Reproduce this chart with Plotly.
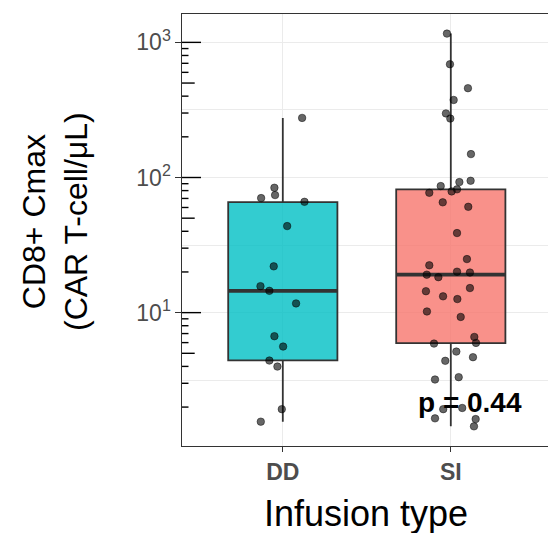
import math
import plotly.graph_objects as go

# ---------------- data ----------------
categories = ["DD", "SI"]
cat_pos = [1, 2]

dd_values = [276, 84, 74.1, 70.4, 66.1, 43.7, 22.0, 15.7, 14.5, 11.7,
             6.69, 5.61, 4.42, 3.99, 1.93, 1.56]
dd_jitter = [0.115, -0.050, -0.046, -0.129, 0.129, 0.026, -0.054, -0.133, -0.080, 0.079,
             -0.050, 0.002, -0.080, -0.032, -0.006, -0.131]

si_values = [1161, 689, 458, 375, 298, 273, 149,
             86.4, 92.5, 94.6, 78.9, 81.7, 77.1, 65.5, 60.7, 38.8, 24.9, 22.4, 19.1,
             18.3, 20.1, 19.8, 14.4, 13.2, 15.2, 12.6,
             10.2, 9.29, 6.61, 5.97, 5.90, 5.15, 4.68, 4.40, 3.20, 3.33,
             1.93, 1.97, 1.65, 1.63, 1.44]
si_jitter = [-0.023, -0.005, 0.102, 0.017, -0.029, -0.003, 0.120,
             -0.060, 0.051, 0.118, 0.005, 0.037, -0.128, -0.048, 0.104, 0.037, 0.096, -0.128, -0.143,
             -0.074, 0.037, 0.114, -0.148, -0.046, 0.114, 0.039,
             -0.142, 0.059, 0.140, 0.150, -0.100, 0.033, 0.132, -0.033, -0.094, 0.047,
             -0.045, 0.068, -0.094, 0.148, 0.138]

box_q1 = [4.44, 5.94]
box_median = [14.5, 19.1]
box_q3 = [65.8, 81.7]
box_lower = [1.56, 1.44]
box_upper = [276, 1161]

fill_colors = ["rgba(0,191,196,0.8)", "rgba(248,118,109,0.8)"]

y_tickvals = [10, 100, 1000]
y_ticktext = ["10<sup>1</sup>", "10<sup>2</sup>", "10<sup>3</sup>"]
y_minor_vals = [10 ** 0.5, 10 ** 1.5, 10 ** 2.5]

p_label = "p = 0.44"
p_x = 2.115
p_y = 2.15

x_title = "Infusion type"
y_title = "CD8+ Cmax<br>(CAR T-cell/μL)"

# ---------------- layout geometry ----------------
W, H = 548, 533
ML, MR, MT, MB = 182, 0, 14, 87
PW, PH = W - ML - MR, H - MT - MB
XR = [0.4, 0.4 + PW / 168.0]
YR = [0.013, 3.21]
BOX_W = 0.65

fig = go.Figure()

groups = [(dd_values, dd_jitter), (si_values, si_jitter)]
for i, cat in enumerate(categories):
    fig.add_trace(go.Box(
        x=[cat_pos[i]], q1=[box_q1[i]], median=[box_median[i]], q3=[box_q3[i]],
        lowerfence=[box_lower[i]], upperfence=[box_upper[i]],
        width=BOX_W, whiskerwidth=0, boxpoints=False,
        fillcolor=fill_colors[i], line=dict(color="#333333", width=1.8),
        showlegend=False, hoverinfo="skip"))
    fig.add_trace(go.Scatter(
        x=[cat_pos[i] - BOX_W / 2, cat_pos[i] + BOX_W / 2],
        y=[box_median[i], box_median[i]], mode="lines",
        line=dict(color="#333333", width=3.8), showlegend=False, hoverinfo="skip"))

for i, (vals, jit) in enumerate(groups):
    fig.add_trace(go.Scatter(
        x=[cat_pos[i] + j for j in jit], y=vals, mode="markers",
        marker=dict(size=7.5, color="rgba(0,0,0,0.6)",
                    line=dict(color="rgba(0,0,0,0.45)", width=1)),
        showlegend=False, hoverinfo="skip"))

# log ticks inside panel (annotation_logticks style)
shapes = []
for k in range(0, 4):
    for m in range(1, 10):
        lv = math.log10(m * 10 ** k)
        if YR[0] <= lv <= YR[1]:
            ln = 19 if m == 1 else (12.7 if m == 5 else 6.5)
            yf = (lv - YR[0]) / (YR[1] - YR[0])
            shapes.append(dict(type="line", xref="paper", yref="paper",
                               x0=0, x1=ln / PW, y0=yf, y1=yf,
                               line=dict(color="black", width=1.4)))

fig.update_layout(
    width=W, height=H,
    margin=dict(l=ML, r=MR, t=MT, b=MB),
    paper_bgcolor="white", plot_bgcolor="white",
    font=dict(family="Liberation Sans, Arial, sans-serif"),
    shapes=shapes,
    xaxis=dict(
        range=XR, tickmode="array", tickvals=cat_pos, ticktext=categories,
        showgrid=True, gridcolor="#EBEBEB", gridwidth=1.4, zeroline=False,
        showline=True, linecolor="#333333", linewidth=1.1, mirror=True,
        ticks="outside", ticklen=5, tickwidth=1.1, tickcolor="#333333",
        tickfont=dict(size=23, color="#4D4D4D", family="Liberation Sans, Arial, sans-serif", weight="bold"),
    ),
    yaxis=dict(
        type="log", range=YR, tickmode="array", tickvals=y_tickvals, ticktext=y_ticktext,
        showgrid=True, gridcolor="#EBEBEB", gridwidth=1.4, zeroline=False,
        showline=True, linecolor="#333333", linewidth=1.1, mirror=False,
        ticks="outside", ticklen=5.5, tickwidth=1.1, tickcolor="#333333",
        tickfont=dict(size=23, color="#4D4D4D"),
        minor=dict(tickmode="array", tickvals=y_minor_vals, showgrid=True,
                   gridcolor="#EBEBEB", gridwidth=0.8, ticks=""),
    ),
    annotations=[
        dict(text=p_label, x=p_x, y=math.log10(p_y), xref="x", yref="y",
             showarrow=False, xanchor="center", yanchor="middle",
             font=dict(size=28, color="black", weight="bold")),
        dict(text=x_title, x=(366 - ML) / PW, y=(MT + PH - 513) / PH,
             xref="paper", yref="paper", showarrow=False,
             xanchor="center", yanchor="middle",
             font=dict(size=36, color="black")),
        dict(text=y_title, x=(55 - ML) / PW, y=(MT + PH - 222) / PH,
             xref="paper", yref="paper", showarrow=False, textangle=-90,
             xanchor="center", yanchor="middle",
             font=dict(size=32, color="black")),
    ],
)

fig.write_html("out.html")
